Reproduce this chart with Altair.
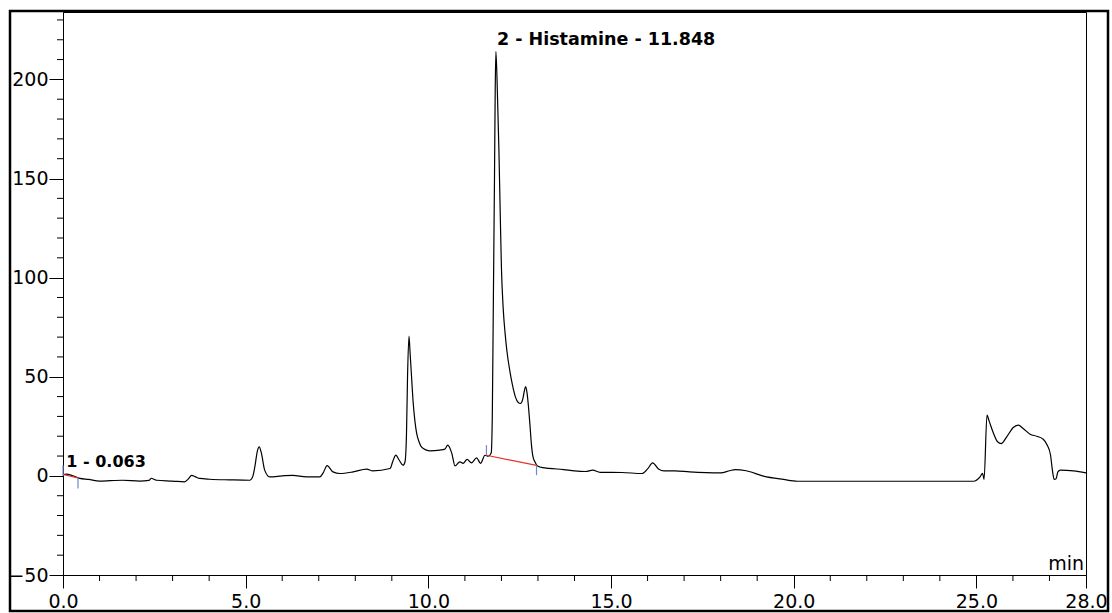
import altair as alt
import pandas as pd

# Chromatogram trace: retention time (min) and detector response
time_min = [
    0.00, 0.09, 0.25, 0.46, 0.70, 1.00, 1.30, 1.63, 2.10, 2.35, 2.42, 2.50, 2.56,
    3.00, 3.33, 3.43, 3.52, 3.63, 3.74, 4.02, 4.56, 5.11, 5.19, 5.25, 5.32, 5.37,
    5.43, 5.52, 5.66, 6.00, 6.29, 6.66, 7.03, 7.12, 7.23, 7.39, 7.58, 7.94, 8.31,
    8.48, 8.95, 9.03, 9.11, 9.20, 9.31, 9.36, 9.40, 9.43, 9.47, 9.50, 9.54, 9.58,
    9.63, 9.68, 9.75, 9.81, 9.95, 10.04, 10.31, 10.45, 10.53, 10.64, 10.73, 10.86,
    10.95, 11.06, 11.18, 11.32, 11.43, 11.55, 11.64, 11.72, 11.75, 11.78, 11.81,
    11.83, 11.848, 11.88, 11.93, 11.97, 12.00, 12.05, 12.10, 12.15, 12.23, 12.30,
    12.38, 12.46, 12.52, 12.58, 12.63, 12.66, 12.70, 12.74, 12.78, 12.82, 12.86,
    12.92, 12.97, 13.05, 13.30, 13.70, 14.00, 14.30, 14.50, 14.70, 15.30, 15.85,
    16.00, 16.14, 16.30, 16.45, 16.75, 17.15, 18.00, 18.25, 18.40, 18.70, 19.17,
    19.72, 20.10, 24.92, 25.10, 25.17, 25.21, 25.29, 25.35, 25.47, 25.58, 25.68,
    25.83, 26.01, 26.15, 26.28, 26.47, 26.65, 26.83, 26.94, 27.03, 27.08, 27.13,
    27.18, 27.23, 27.30, 27.66, 28.00,
]
signal = [
    0.6, 0.9, 0.2, -1.3, -1.8, -2.6, -2.4, -2.2, -2.6, -2.3, -1.2, -1.8, -2.2,
    -2.6, -3.0, -1.5, 0.3, -0.5, -1.3, -1.7, -2.0, -2.2, -0.5, 4.5, 12.5, 14.6,
    11.5, 2.9, -0.5, 0.0, 0.3, -0.5, -0.5, 1.5, 5.2, 2.0, 1.2, 2.0, 3.4,
    2.5, 3.7, 7.5, 10.5, 8.0, 5.4, 7.0, 20.0, 50.0, 70.5, 62.0, 50.0, 38.0,
    28.0, 21.4, 17.0, 14.6, 13.0, 12.6, 13.0, 13.5, 15.5, 11.5, 5.0, 7.1,
    6.3, 8.3, 6.6, 9.1, 6.3, 10.4, 9.9, 11.5, 30.0, 90.0, 150.0,
    195.0, 214.0, 200.0, 165.0, 130.0, 105.0, 84.0, 72.0, 63.0, 53.0, 46.0,
    40.0, 37.0, 36.5, 38.5, 43.0, 45.0, 42.0, 35.0, 26.0, 16.0, 10.0,
    7.0, 5.3, 4.5, 3.8, 3.2, 2.5, 2.2, 2.9, 1.8, 1.7, 1.2,
    3.5, 6.6, 3.5, 2.5, 2.5, 2.0, 1.5, 2.6, 3.2, 2.6, -0.1,
    -1.8, -2.7, -2.7, -0.5, 1.3, -1.8, 30.6, 27.6, 21.4, 17.2, 16.3,
    19.7, 24.4, 25.6, 23.9, 21.0, 20.0, 18.5, 15.5, 10.4, 2.9, -1.8,
    -1.5, 2.0, 2.9, 2.5, 1.5,
]

# Integration baselines (start/end time and level)
base_t1 = [0.00, 11.59]
base_y1 = [0.7, 10.4]
base_t2 = [0.41, 12.96]
base_y2 = [-1.0, 5.3]

# Peak delimiter marks
mark_t = [0.00, 0.41, 11.59, 12.96]
mark_lo = [0.0, -1.0, 10.4, 0.4]
mark_hi = [5.4, -6.4, 15.5, 5.4]

# Peak annotations
peak_label = ["1 - 0.063", "2 - Histamine - 11.848"]
peak_time = [0.063, 11.848]
peak_height = [0.9, 214.0]
peak_font = [16, 17.5]

# Axis ticks
x_major = [0, 5, 10, 15, 20, 25, 28]
x_minor = [t for t in range(0, 29) if t not in x_major]
y_major = [-50, 0, 50, 100, 150, 200]
y_minor = [v for v in range(-40, 231, 10) if v not in y_major]

FONT = "DejaVu Sans"
PLOT_W, PLOT_H = 1023, 563

trace = pd.DataFrame({"t": time_min, "y": signal})
baselines = pd.DataFrame({"t": base_t1, "y": base_y1, "t2": base_t2, "y2": base_y2})
marks = pd.DataFrame({"t": mark_t, "y": mark_lo, "y2": mark_hi})
labels = pd.DataFrame({"t": peak_time, "y": peak_height, "text": peak_label, "size": peak_font})
unit = pd.DataFrame({"t": [28.0], "y": [-50.0], "text": ["min"]})

x_scale = alt.Scale(domain=[0, 28], nice=False, zero=False)
y_scale = alt.Scale(domain=[-50, 234], nice=False, zero=False)

x_axis = alt.Axis(
    values=x_major,
    format=".1f",
    tickSize=13,
    labelFlush=False,
    labelOverlap=False,
    labelPadding=4,
    labelFontSize=19,
    labelFont=FONT,
    labelColor="black",
    tickColor="black",
    domainColor="black",
    grid=False,
    title=None,
)
y_axis = alt.Axis(
    values=y_major,
    format="d",
    tickSize=14,
    labelOverlap=False,
    labelPadding=1,
    labelFontSize=19,
    labelFont=FONT,
    labelColor="black",
    tickColor="black",
    domainColor="black",
    grid=False,
    title=None,
)

line = alt.Chart(trace).mark_line(color="black", strokeWidth=1.2, interpolate="monotone", clip=True).encode(
    x=alt.X("t:Q", scale=x_scale, axis=x_axis),
    y=alt.Y("y:Q", scale=y_scale, axis=y_axis),
)

# Minor ticks between the labelled ones
x_minor_ticks = alt.Chart(pd.DataFrame({"t": x_minor})).mark_rule(color="black", strokeWidth=1).encode(
    x="t:Q", y=alt.value(PLOT_H), y2=alt.value(PLOT_H + 6)
)
y_minor_ticks = alt.Chart(pd.DataFrame({"y": y_minor})).mark_rule(color="black", strokeWidth=1).encode(
    y="y:Q", x=alt.value(-6), x2=alt.value(0)
)

base_rules = alt.Chart(baselines).mark_rule(color="#e8302c", strokeWidth=1.2).encode(
    x="t:Q", y="y:Q", x2="t2:Q", y2="y2:Q"
)

mark_rules = alt.Chart(marks).mark_rule(color="#6f88cc", strokeWidth=1.2).encode(
    x="t:Q", y="y:Q", y2="y2:Q"
)

peak_text = alt.Chart(labels).mark_text(
    align="left", baseline="middle", dy=-12, dx=1, font=FONT, fontWeight="bold", color="black"
).encode(
    x="t:Q", y="y:Q", text="text:N", size=alt.Size("size:Q", scale=None, legend=None)
)

unit_text = alt.Chart(unit).mark_text(
    align="right", baseline="alphabetic", dx=-2, dy=-5, font=FONT, fontSize=19, color="black"
).encode(x="t:Q", y="y:Q", text="text:N")

frame = alt.Chart(pd.DataFrame({"k": [0]})).mark_rect(
    fill=None, stroke="black", strokeWidth=2.5
).encode(
    x=alt.value(-53), x2=alt.value(1045), y=alt.value(-1), y2=alt.value(599)
)

chart = (
    alt.layer(line, x_minor_ticks, y_minor_ticks, base_rules, mark_rules, peak_text, unit_text, frame)
    .properties(
        width=PLOT_W,
        height=PLOT_H,
        autosize=alt.AutoSizeParams(type="none"),
        padding={"left": 63, "top": 12, "right": 26, "bottom": 38},
        background="white",
    )
    .configure_view(stroke="black", strokeWidth=1)
)

chart.save("out.html", embed_options={"renderer": "svg", "actions": False})
